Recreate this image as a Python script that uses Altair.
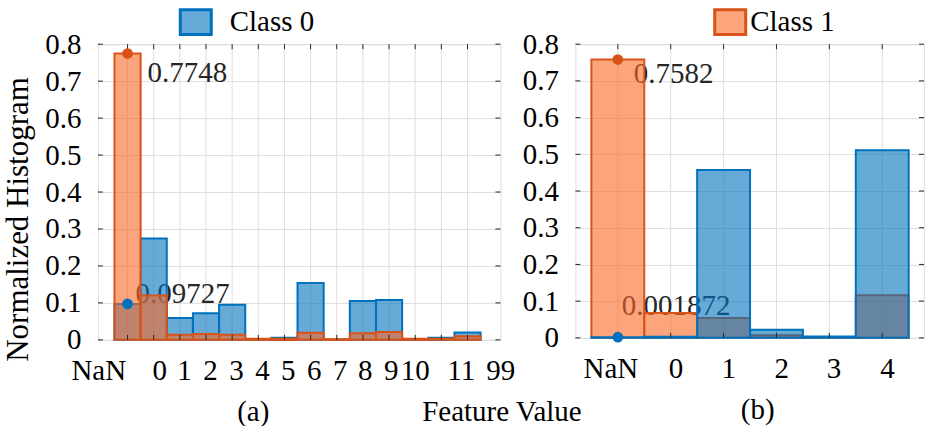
import json
import altair as alt
import pandas as pd

FONT = "Liberation Serif"
FS = 29
BLUE = "#0072BD"
ORANGE = "#D95319"
FILL_BLUE = "rgba(0,114,189,0.6)"
FILL_ORANGE = "rgba(250,103,37,0.6)"
GRID = "#dedede"
FRAME = "#262626"

classes = ["Class 0", "Class 1"]
fill_colors = [FILL_BLUE, FILL_ORANGE]
line_colors = [BLUE, ORANGE]

# ---- panel (a) ----
labels_a = ["NaN", "0", "1", "2", "3", "4", "5", "6", "7", "8", "9", "10", "11", "99"]
class0_a = [0.09727, 0.274, 0.059, 0.072, 0.095, 0.002, 0.006, 0.154, 0.001, 0.105, 0.108, 0.002, 0.006, 0.020]
class1_a = [0.7748, 0.120, 0.014, 0.016, 0.014, 0.003, 0.003, 0.019, 0.002, 0.018, 0.021, 0.003, 0.003, 0.010]

# ---- panel (b) ----
labels_b = ["NaN", "0", "1", "2", "3", "4"]
class0_b = [0.001872, 0.003, 0.457, 0.022, 0.004, 0.511]
class1_b = [0.7582, 0.068, 0.054, 0.007, 0.002, 0.116]

y_ticks = [0, 0.1, 0.2, 0.3, 0.4, 0.5, 0.6, 0.7, 0.8]

# tick-label placement along the bin axis (bin units), as in the reference
label_pos_a = [-1.12, 1.21, 2.16, 3.15, 4.15, 5.14, 6.13, 7.12, 8.11, 9.07, 10.06, 10.98, 12.74, 14.25]
label_pos_b = [-0.14, 1.09, 2.09, 3.09, 4.08, 5.09]

RECT_PATH = "M-1,-0.8L1,-0.8L1,0.8L-1,0.8Z"


def panel(labels, c0, c1, label_pos, width, height, x_domain, bottom_first,
          legend_cls, legend_x, legend_label_offset, ann, x_title, x_title_x,
          y_title, y_title_params):
    rows = []
    order = ["Class 0", "Class 1"] if bottom_first == "Class 0" else ["Class 1", "Class 0"]
    series = {"Class 0": c0, "Class 1": c1}
    for cls in order:
        for i, (lab, v) in enumerate(zip(labels, series[cls])):
            rows.append({"idx": i, "label": lab, "cls": cls, "value": v})
    bars_df = pd.DataFrame(rows)
    bins_df = pd.DataFrame({"idx": list(range(len(labels)))})
    yt_df = pd.DataFrame({"v": y_ticks})
    ann_df = pd.DataFrame({
        "idx": [0, 0],
        "cls": ["Class 0", "Class 1"],
        "value": [c0[0], c1[0]],
        "txt": [f"{c0[0]:g}", f"{c1[0]:g}"],
    })

    xs = alt.Scale(domain=x_domain, nice=False, zero=False)
    ys = alt.Scale(domain=[0, 0.8], nice=False)

    label_expr = "{}[indexof({}, datum.value)]".format(json.dumps(labels), json.dumps(label_pos))
    x_axis = alt.Axis(
        values=label_pos, labelExpr=label_expr, grid=False, ticks=False, tickSize=0,
        domain=False, labelFont=FONT, labelFontSize=FS, labelColor="black",
        labelAlign="center", labelBaseline="top", labelPadding=17, labelOverlap=False,
        title=x_title, titleFont=FONT, titleFontSize=FS, titleFontWeight="normal",
        titleColor="black", titleX=x_title_x, titleY=81, titleAlign="center",
        titleBaseline="alphabetic", titleAnchor="start",
    )
    y_axis_kwargs = dict(
        values=y_ticks, format=".1~f", grid=True, gridColor=GRID, gridWidth=1,
        ticks=False, tickSize=0, domain=False, labelFont=FONT, labelFontSize=FS,
        labelColor="black", labelPadding=17, labelAlign="right", labelBaseline="middle",
        title=y_title, titleFont=FONT, titleFontWeight="normal",
        titleColor="black", titleBaseline="alphabetic", titleAlign="center",
    )
    y_axis_kwargs.update(y_title_params)
    y_axis = alt.Axis(**y_axis_kwargs)

    def X(field):
        return alt.X(field, scale=xs, axis=x_axis)

    def Y(field):
        return alt.Y(field, scale=ys, axis=y_axis)

    leg = alt.Legend(
        title=None, orient="none", legendX=legend_x, legendY=-39, values=[legend_cls],
        symbolType=RECT_PATH, symbolSize=961, symbolStrokeWidth=3,
        labelFont=FONT, labelFontSize=FS, labelColor="black",
        labelOffset=legend_label_offset, padding=0,
    )
    fill_enc = alt.Fill("cls:N", scale=alt.Scale(domain=classes, range=fill_colors), legend=leg)
    stroke_enc = alt.Stroke("cls:N", scale=alt.Scale(domain=classes, range=line_colors), legend=leg)

    grid_v = alt.Chart(bins_df).mark_rule(color=GRID, strokeWidth=1).encode(x=X("idx:Q"))

    texts = []
    for cls, (dx, dy) in ann.items():
        texts.append(
            alt.Chart(ann_df).transform_filter(alt.datum.cls == cls)
            .mark_text(align="left", baseline="middle", dx=dx, dy=dy, font=FONT,
                       fontSize=FS, color="#262626")
            .encode(x=X("idx:Q"), y=Y("value:Q"), text="txt:N")
        )

    bar_layers = []
    for cls in order:
        bar_layers.append(
            alt.Chart(bars_df).transform_filter(alt.datum.cls == cls)
            .transform_calculate(lo="datum.idx - 0.5", hi="datum.idx + 0.5")
            .mark_rect(strokeWidth=2, strokeJoin="miter")
            .encode(
                x=X("lo:Q"), x2="hi:Q", y=Y("value:Q"),
                y2=alt.datum(0), fill=fill_enc, stroke=stroke_enc,
            )
        )

    tick_top = alt.Chart(bins_df).mark_rule(color=FRAME, strokeWidth=1).encode(
        x=X("idx:Q"), y=alt.value(0), y2=alt.value(5))
    tick_bot = alt.Chart(bins_df).mark_rule(color=FRAME, strokeWidth=1).encode(
        x=X("idx:Q"), y=alt.value(height), y2=alt.value(height - 5))
    tick_left = alt.Chart(yt_df).mark_rule(color=FRAME, strokeWidth=1).encode(
        y=Y("v:Q"), x=alt.value(0), x2=alt.value(5))
    tick_right = alt.Chart(yt_df).mark_rule(color=FRAME, strokeWidth=1).encode(
        y=Y("v:Q"), x=alt.value(width), x2=alt.value(width - 5))

    points = alt.Chart(ann_df).mark_circle(size=115, opacity=1).encode(
        x=X("idx:Q"), y=Y("value:Q"),
        color=alt.Color("cls:N", scale=alt.Scale(domain=classes, range=line_colors), legend=None),
    )

    return alt.layer(
        grid_v, *texts, *bar_layers, tick_top, tick_bot, tick_left, tick_right, points
    ).properties(width=width, height=height)


left = panel(
    labels_a, class0_a, class1_a, label_pos_a, 403, 296, [-1.134, 14.26], "Class 0",
    "Class 0", 81, 17, {"Class 1": (20, 20), "Class 0": (8, -10)}, "(a)", 155,
    "Normalized Histogram", dict(titleAngle=270, titleX=-70, titleY=175, titleFontSize=31),
)
right = panel(
    labels_b, class0_b, class1_b, label_pos_b, 349, 294, [-0.803, 5.79], "Class 1",
    "Class 1", 138, 3, {"Class 1": (16, 14), "Class 0": (4, -31)}, "(b)", 182,
    "Feature Value", dict(titleAngle=0, titleX=-74, titleY=377, titleFontSize=FS),
)

chart = (
    alt.hconcat(left, right, spacing=75, bounds="flush")
    .resolve_scale(fill="independent", stroke="independent", color="independent")
    .properties(padding={"left": 2, "top": 4, "right": 0, "bottom": 0})
    .configure_view(stroke=FRAME, strokeWidth=1.3)
    .configure(font=FONT)
)

chart.save("out.html", embed_options={"renderer": "svg", "actions": False})
